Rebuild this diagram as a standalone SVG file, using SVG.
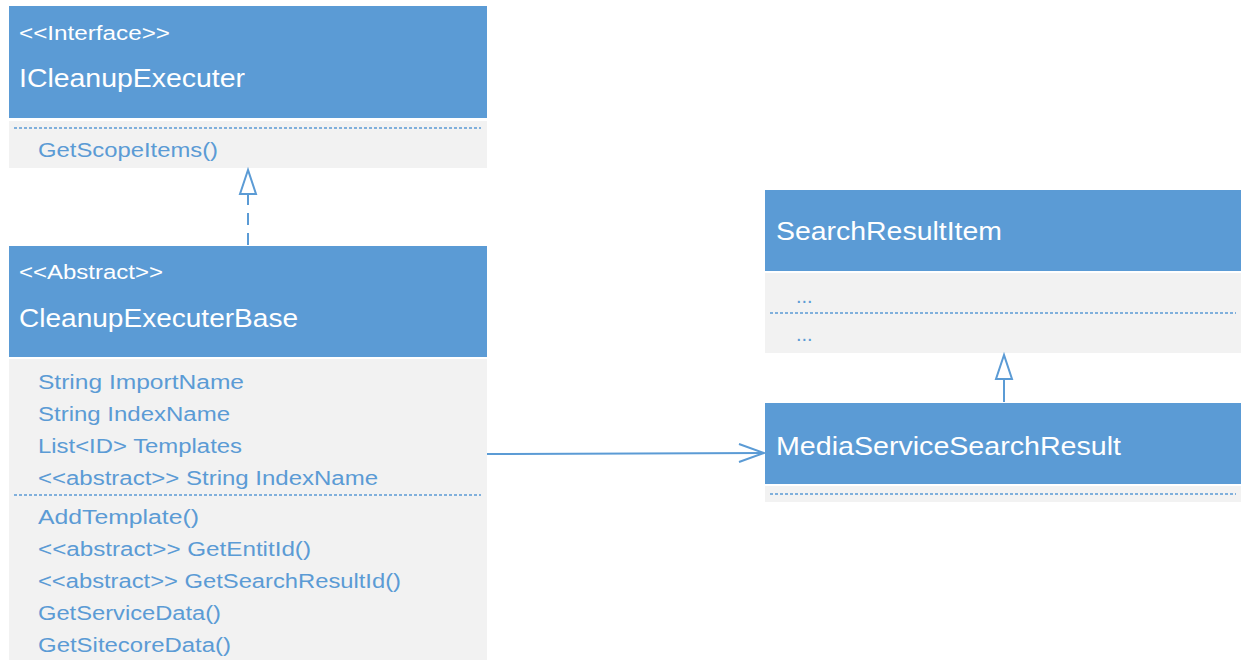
<svg xmlns="http://www.w3.org/2000/svg" width="1241" height="660" viewBox="0 0 1241 660">
<style>
.hdr{fill:#5B9BD5}
.body{fill:#F2F2F2}
.sep{stroke:#5B9BD5;stroke-width:1.5;stroke-dasharray:3 2;fill:none}
.wt{fill:#FFFFFF;font-family:"Liberation Sans",Arial,sans-serif}
.bt{fill:#5B9BD5;font-family:"Liberation Sans",Arial,sans-serif;font-size:20px}
.st{font-size:20px}
.nm{font-size:26px}
.ln{stroke:#5B9BD5;stroke-width:2;fill:none}
</style>
<rect width="1241" height="660" fill="#FFFFFF"/>
<g id="ICleanupExecuter">
<rect class="hdr" x="9" y="6" width="478" height="112"/>
<rect class="body" x="9" y="121" width="478" height="47"/>
<line class="sep" x1="14" y1="128" x2="481" y2="128"/>
<text class="wt st" x="19" y="40" textLength="151" lengthAdjust="spacingAndGlyphs">&lt;&lt;Interface&gt;&gt;</text>
<text class="wt nm" x="19" y="87" textLength="226" lengthAdjust="spacingAndGlyphs">ICleanupExecuter</text>
<text class="bt" x="38" y="157" textLength="180" lengthAdjust="spacingAndGlyphs">GetScopeItems()</text>
</g>
<g id="CleanupExecuterBase">
<rect class="hdr" x="9" y="246" width="478" height="111"/>
<rect class="body" x="9" y="359" width="478" height="301"/>
<text class="wt st" x="19" y="279" textLength="144" lengthAdjust="spacingAndGlyphs">&lt;&lt;Abstract&gt;&gt;</text>
<text class="wt nm" x="19" y="327" textLength="279" lengthAdjust="spacingAndGlyphs">CleanupExecuterBase</text>
<text class="bt" x="38" y="389" textLength="206" lengthAdjust="spacingAndGlyphs">String ImportName</text>
<text class="bt" x="38" y="421" textLength="192" lengthAdjust="spacingAndGlyphs">String IndexName</text>
<text class="bt" x="38" y="453" textLength="204" lengthAdjust="spacingAndGlyphs">List&lt;ID&gt; Templates</text>
<text class="bt" x="38" y="485" textLength="340" lengthAdjust="spacingAndGlyphs">&lt;&lt;abstract&gt;&gt; String IndexName</text>
<line class="sep" x1="14" y1="495" x2="481" y2="495"/>
<text class="bt" x="38" y="524" textLength="161" lengthAdjust="spacingAndGlyphs">AddTemplate()</text>
<text class="bt" x="38" y="556" textLength="273" lengthAdjust="spacingAndGlyphs">&lt;&lt;abstract&gt;&gt; GetEntitId()</text>
<text class="bt" x="38" y="588" textLength="363" lengthAdjust="spacingAndGlyphs">&lt;&lt;abstract&gt;&gt; GetSearchResultId()</text>
<text class="bt" x="38" y="620" textLength="183" lengthAdjust="spacingAndGlyphs">GetServiceData()</text>
<text class="bt" x="38" y="652" textLength="193" lengthAdjust="spacingAndGlyphs">GetSitecoreData()</text>
</g>
<g id="SearchResultItem">
<rect class="hdr" x="765" y="190" width="476" height="81"/>
<rect class="body" x="765" y="273" width="476" height="80"/>
<text class="wt nm" x="776" y="240" textLength="226" lengthAdjust="spacingAndGlyphs">SearchResultItem</text>
<text class="bt" x="796" y="303">...</text>
<line class="sep" x1="770" y1="313" x2="1236" y2="313"/>
<text class="bt" x="796" y="341">...</text>
</g>
<g id="MediaServiceSearchResult">
<rect class="hdr" x="765" y="403" width="476" height="81"/>
<rect class="body" x="765" y="486" width="476" height="16"/>
<text class="wt nm" x="776" y="455" textLength="345" lengthAdjust="spacingAndGlyphs">MediaServiceSearchResult</text>
<line class="sep" x1="770" y1="494" x2="1236" y2="494"/>
</g>
<g id="connectors">
<line class="ln" x1="248" y1="245" x2="248" y2="194" stroke-dasharray="12 8"/>
<polygon class="ln" points="248,170 240,194 256,194" fill="#FFFFFF"/>
<line class="ln" x1="1004" y1="402" x2="1004" y2="379"/>
<polygon class="ln" points="1004,355 996,379 1012,379" fill="#FFFFFF"/>
<line class="ln" x1="487" y1="454" x2="764" y2="453"/>
<polyline class="ln" points="739,444 764,453 739,462"/>
</g>
</svg>
